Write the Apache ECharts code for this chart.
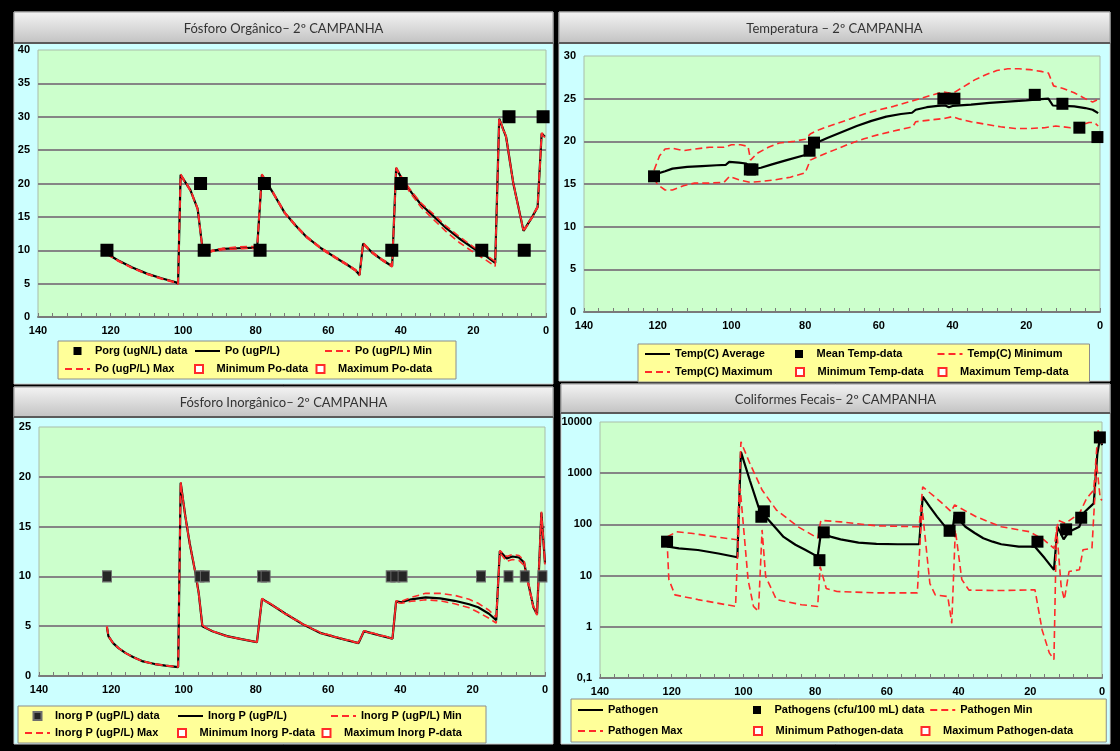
<!DOCTYPE html>
<html>
<head>
<meta charset="utf-8">
<title>2º CAMPANHA</title>
<script src="https://cdn.jsdelivr.net/npm/echarts@6/dist/echarts.min.js"></script>
<style>
  html, body { margin: 0; padding: 0; background: #000; }
  #chart { width: 1120px; height: 751px; }
</style>
</head>
<body>
<div id="chart"></div>
<script>
// ---- Fósforo Orgânico ----
const poDay = [121, 118, 114, 110, 106, 102, 101.4, 100.7, 98, 96, 94.5, 92, 89, 85, 79.6, 78.3, 75, 72, 69, 66, 62, 58, 55, 52.5, 51.4, 50.4, 48, 45, 42.4, 41.3, 39.5, 37, 34.5, 31, 27.5, 24, 20, 17, 14, 12.9, 11, 9, 6.2, 4, 2.3, 1.2, 0.3]
const poAvg = [9.5, 8.5, 7.4, 6.5, 5.8, 5.2, 5.0, 21.3, 19.0, 16.2, 9.5, 9.9, 10.2, 10.3, 10.4, 21.3, 18.4, 15.6, 13.7, 12.0, 10.3, 8.9, 7.9, 7.0, 6.3, 11.0, 9.7, 8.5, 7.6, 22.3, 20.5, 18.6, 16.9, 15.1, 13.3, 11.8, 10.3, 9.3, 8.1, 29.7, 27.0, 20.0, 12.9, 14.8, 16.5, 27.5, 27.0]
const poMin = [9.4, 8.4, 7.3, 6.4, 5.7, 5.1, 4.9, 21.2, 18.9, 16.1, 9.4, 9.8, 10.1, 10.2, 10.3, 21.2, 18.3, 15.5, 13.6, 11.9, 10.2, 8.8, 7.8, 6.9, 6.2, 10.9, 9.6, 8.4, 7.5, 22.2, 20.3, 18.3, 16.5, 14.6, 12.8, 11.2, 9.7, 8.7, 7.6, 29.6, 26.9, 19.9, 12.8, 14.7, 16.4, 27.4, 26.9]
const poMax = [9.5, 8.5, 7.4, 6.5, 5.8, 5.2, 5.0, 21.4, 19.1, 16.3, 9.6, 10.0, 10.3, 10.5, 10.6, 21.4, 18.5, 15.7, 13.8, 12.1, 10.4, 9.0, 8.0, 7.1, 6.4, 11.1, 9.8, 8.6, 7.8, 22.4, 20.7, 18.8, 17.1, 15.4, 13.6, 12.1, 10.5, 9.5, 8.3, 29.8, 27.1, 20.1, 13.0, 14.9, 16.6, 27.6, 27.1]
const poDataDay = [121, 95.2, 94.2, 78.8, 77.6, 42.5, 39.9, 17.7, 10.2, 6, 0.8]
const poData = [10, 20, 10, 10, 20, 10, 20, 10, 30, 10, 30]

// ---- Temperatura ----
const tempDay = [121, 118, 116, 112, 108, 104, 101.5, 100.6, 98, 96, 94.6, 92, 89, 85, 80, 78.6, 77.1, 74, 70, 66, 62, 58, 54, 51, 50, 47, 44, 42, 41, 40, 35, 30, 25, 20, 16, 14, 12.8, 10, 7, 4, 2, 0.5]
const tempAvg = [16.1, 16.5, 16.8, 17.0, 17.1, 17.2, 17.25, 17.6, 17.5, 17.4, 16.7, 16.9, 17.3, 17.8, 18.4, 18.8, 19.8, 20.4, 21.1, 21.8, 22.4, 22.9, 23.2, 23.35, 23.7, 24.0, 24.15, 24.2, 24.0, 24.15, 24.3, 24.5, 24.65, 24.8, 24.95, 25.0, 24.2, 24.15, 24.1, 23.9, 23.7, 23.3]
const tempMaxDay = [121, 119.5, 118, 116, 113, 110, 106, 102, 100, 97.5, 95.5, 94.8, 93, 90, 87, 83, 80, 78.5, 76, 72, 68, 64, 60, 56, 52, 48, 45, 42.5, 40, 37, 34, 31, 28, 25, 22, 19, 16, 14, 12.6, 10, 7, 4, 2, 0.5]
const tempMax = [16.6, 18.3, 19.1, 19.2, 18.9, 19.1, 19.3, 19.3, 19.6, 19.6, 19.4, 17.8, 18.6, 19.3, 19.8, 20.0, 20.25, 20.9, 21.4, 22.0, 22.6, 23.2, 23.7, 24.1, 24.6, 25.1, 25.5, 25.8, 25.6, 26.4, 27.2, 27.8, 28.3, 28.5, 28.5, 28.4, 28.2, 28.0, 26.5, 26.2, 25.7, 25.0, 24.6, 24.9]
const tempMinDay = [121, 120, 118, 116, 113, 110, 106, 102, 100.5, 98, 95, 92, 88, 84, 80, 78.6, 76, 72, 68, 64, 60, 56, 52, 50.8, 50, 46, 42, 40, 38, 35, 31, 27, 23, 19, 15, 12, 8, 5, 3, 1.5, 0.5]
const tempMin = [15.7, 14.9, 14.3, 14.3, 14.8, 15.1, 15.1, 15.2, 15.9, 15.5, 15.2, 15.3, 15.5, 15.8, 16.3, 17.8, 18.3, 19.0, 19.7, 20.3, 20.8, 21.2, 21.6, 21.7, 22.3, 22.5, 22.7, 22.9, 22.6, 22.3, 22.0, 21.7, 21.5, 21.5, 21.6, 21.8, 21.6, 21.9, 22.2, 22.2, 21.8]
const tempDataDay = [121, 95, 94.3, 78.8, 77.6, 42.5, 39.5, 17.7, 10.2, 5.6, 0.7]
const tempData = [15.9, 16.7, 16.7, 18.9, 19.85, 25, 25, 25.45, 24.4, 21.6, 20.5]

// ---- Fósforo Inorgânico ----
const ipDay = [121.2, 120.8, 119.5, 118, 116, 114, 111.5, 108, 105, 101.5, 100.8, 99.5, 98.3, 96.7, 95.8, 94.8, 92, 88, 84, 79.7, 78.3, 75, 71.8, 67, 62, 57, 51.6, 50.1, 46, 42.2, 41.2, 39.7, 37, 33, 29, 25, 21, 18.5, 15.5, 13.5, 12.5, 10.6, 9, 7.2, 5.8, 4.8, 3.2, 2.2, 1, 0]
const ipAvg = [4.9, 4.0, 3.3, 2.8, 2.3, 1.9, 1.5, 1.2, 1.05, 0.9, 19.4, 16.0, 13.3, 10.3, 8.3, 5.0, 4.5, 4.0, 3.7, 3.4, 7.75, 7.0, 6.25, 5.2, 4.3, 3.8, 3.3, 4.5, 4.1, 3.75, 7.5, 7.4, 7.7, 7.9, 7.8, 7.55, 7.2, 6.9, 6.25, 5.6, 12.55, 11.8, 12.0, 11.9, 11.4, 9.6, 6.9, 6.2, 16.4, 11.3]
const ipMin = [4.9, 4.0, 3.3, 2.8, 2.3, 1.9, 1.5, 1.2, 1.05, 0.9, 19.3, 15.9, 13.2, 10.2, 8.2, 5.0, 4.5, 4.0, 3.7, 3.4, 7.7, 7.0, 6.2, 5.2, 4.3, 3.8, 3.3, 4.5, 4.1, 3.75, 7.4, 7.3, 7.5, 7.65, 7.55, 7.25, 6.85, 6.4, 5.8, 5.3, 12.4, 11.5, 11.7, 11.6, 11.1, 9.4, 6.8, 6.1, 16.3, 11.2]
const ipMax = [5.0, 4.0, 3.3, 2.8, 2.3, 1.9, 1.5, 1.2, 1.05, 0.9, 19.5, 16.1, 13.4, 10.4, 8.4, 5.1, 4.5, 4.0, 3.7, 3.4, 7.8, 7.05, 6.3, 5.25, 4.35, 3.85, 3.35, 4.55, 4.15, 3.8, 7.55, 7.5, 7.9, 8.3, 8.3, 8.1, 7.7, 7.3, 6.6, 5.9, 12.6, 12.0, 12.2, 12.1, 11.6, 9.8, 7.0, 6.3, 16.5, 11.4]
const ipDataDay = [121.2, 95.6, 94.1, 78.3, 77.3, 42.7, 41.4, 39.4, 17.7, 10.1, 5.6, 0.7]
const ipData = [10, 10, 10, 10, 10, 10, 10, 10, 10, 10, 10, 10]

// ---- Coliformes Fecais ----
const pathDay = [121.3, 118, 112.7, 107, 101.7, 100.7, 98.2, 95.8, 93.8, 91, 88.8, 85.5, 82.8, 79.3, 78.4, 75.5, 72.9, 67.9, 62.9, 57, 51, 50, 48, 46, 43, 41.9, 41.1, 38.1, 35.5, 33.1, 30.5, 28.1, 23.2, 18.7, 16, 13.4, 12.4, 10.7, 9.2, 6.3, 4.8, 2.3, 1.3, 0.5, 0]
const pathAvg = [37, 34, 31.6, 27, 22.8, 2600, 720, 220, 141, 85, 57, 40, 32, 23.5, 67, 57, 51, 44, 41.7, 41, 41, 350, 220, 142, 78, 62, 152, 90, 68, 53.7, 46, 41, 36.7, 36.7, 22, 12.9, 90, 51, 72, 90, 177, 257, 2400, 5100, 3500]
const pathMaxDay = [121.3, 118.6, 114.6, 107.7, 101.7, 100.7, 98.2, 94.8, 90.8, 84.8, 79.3, 78.4, 72.9, 62.9, 51, 50, 45, 42.1, 41.1, 35.1, 28.1, 20.2, 16.2, 13.4, 12.2, 10.2, 6.3, 4.3, 2.3, 1.1, 0]
const pathMax = [57, 72, 67, 57, 50, 4100, 1550, 470, 191, 90, 54, 120, 112, 94, 90, 540, 276, 178, 240, 141, 90, 72, 50, 34, 120, 105, 163, 321, 470, 6900, 3800]
const pathMinDay = [121.3, 120.8, 119.1, 112.7, 102.2, 100.9, 98.7, 97.2, 95.8, 94.8, 93.8, 90.8, 83.8, 79.3, 78.6, 76.9, 73.9, 62.9, 51.5, 50.2, 48, 46.5, 43, 41.9, 40.9, 39.1, 37.1, 28.1, 18.7, 16.7, 14.7, 13.4, 12.7, 11.4, 10.5, 9.2, 6.3, 5.3, 2.8, 1.5, 0.5, 0]
const pathMin = [49, 8.4, 4.2, 3.4, 2.5, 500, 8.3, 2.5, 2.0, 78, 9.6, 3.4, 2.7, 2.5, 15, 5.6, 4.9, 4.6, 4.6, 219, 7, 4.2, 3.9, 1.17, 78, 8.4, 5.2, 5.1, 5.3, 0.87, 0.31, 0.23, 90, 6.2, 3.4, 12, 13, 32, 34, 1550, 320, 295]
const pathDataDay = [121.3, 95, 94.3, 78.8, 77.6, 42.5, 39.8, 18, 10, 5.8, 0.6]
const pathData = [46, 141, 180, 20, 70, 75, 135, 46, 80, 135, 5000]

const titles = ['Fósforo Orgânico– 2º CAMPANHA', 'Temperatura – 2º CAMPANHA', 'Fósforo Inorgânico– 2º CAMPANHA', 'Coliformes Fecais– 2º CAMPANHA']

const RED = '#ff2a2a'
const SQUARE = 'path://M0,0H10V10H0Z'
const labelFont = { color: '#000', fontWeight: 'bold', fontSize: 11, fontFamily: 'Liberation Sans, Arial, sans-serif' }

const pairs = (xs, ys) => xs.map((x, i) => [x, ys[i]])

// panel boxes: x, y, w, h, title bar height
const panels = [
  [14, 12, 539, 372, 31],
  [559, 12, 551, 369, 31],
  [14, 387, 539, 357, 30],
  [561, 384, 549, 360, 29]
]

const graphics = []
panels.forEach((p, i) => {
  const [x, y, w, h, th] = p
  graphics.push({ type: 'rect', z: -10, shape: { x: x, y: y, width: w, height: h }, style: { fill: '#ccffff', stroke: '#cfcfcf', lineWidth: 1 } })
  graphics.push({
    type: 'rect', z: -9, shape: { x: x, y: y, width: w, height: th },
    style: { fill: new echarts.graphic.LinearGradient(0, 0, 0, 1, [{ offset: 0, color: '#f4f4f4' }, { offset: 1, color: '#c2c2c2' }]), stroke: '#9a9a9a', lineWidth: 1 }
  })
  graphics.push({ type: 'line', z: -8, shape: { x1: x, y1: y + th, x2: x + w, y2: y + th }, style: { stroke: '#5a5a5a', lineWidth: 2 } })
  graphics.push({
    type: 'text', z: -7, x: x + w / 2, y: y + th / 2 + 1,
    style: { text: titles[i], fill: '#333', font: '13px Lato, "Open Sans", sans-serif', textAlign: 'center', textVerticalAlign: 'middle' }
  })
})

const grids = [
  { left: 38, top: 50, width: 508, height: 267 },
  { left: 584, top: 56, width: 516, height: 256 },
  { left: 39, top: 427, width: 506, height: 249 },
  { left: 600, top: 422, width: 502, height: 256 }
].map(g => Object.assign(g, { show: true, backgroundColor: '#ccffcc', borderColor: '#a9bda9', borderWidth: 1 }))

const xAxes = [0, 1, 2, 3].map(i => ({
  gridIndex: i,
  type: 'value',
  min: 0,
  max: 140,
  interval: 20,
  inverse: true,
  axisLine: { lineStyle: { color: '#7a7a7a', width: 2 } },
  axisTick: { inside: true, length: 4, lineStyle: { color: '#7a7a7a' } },
  minorTick: { show: true, splitNumber: 5, length: 4, lineStyle: { color: '#7a7a7a' } },
  splitLine: { show: false },
  axisLabel: Object.assign({ margin: 8 }, labelFont)
}))

const yBase = {
  axisLine: { show: false },
  axisTick: { show: false },
  splitLine: { show: true, showMinLine: false, showMaxLine: false, lineStyle: { color: '#858585', width: 2 } },
  axisLabel: Object.assign({ margin: 8 }, labelFont)
}
const yAxes = [
  Object.assign({ gridIndex: 0, type: 'value', min: 0, max: 40, interval: 5 }, yBase),
  Object.assign({ gridIndex: 1, type: 'value', min: 0, max: 30, interval: 5 }, yBase),
  Object.assign({ gridIndex: 2, type: 'value', min: 0, max: 25, interval: 5 }, yBase),
  Object.assign({ gridIndex: 3, type: 'log', logBase: 10, min: 0.1, max: 10000, interval: 1 }, yBase, {
    axisLabel: Object.assign({ margin: 8, formatter: v => (v < 1 ? String(v).replace('.', ',') : String(v)) }, labelFont)
  })
]

function line (name, i, data, dashed) {
  return {
    name: name,
    type: 'line',
    xAxisIndex: i,
    yAxisIndex: i,
    data: data,
    symbol: 'none',
    z: dashed ? 3 : 2,
    lineStyle: dashed ? { color: RED, width: 1.6, type: [7, 4] } : { color: '#000', width: 2.2 },
    itemStyle: { color: dashed ? RED : '#000' }
  }
}
function dots (name, i, data, size, style) {
  return { name: name, type: 'scatter', xAxisIndex: i, yAxisIndex: i, data: data, symbol: 'rect', symbolSize: size, z: 5, itemStyle: Object.assign({ opacity: 1 }, style) }
}
const black = { color: '#000' }
const hollow = { color: '#fff', borderColor: RED, borderWidth: 1.2 }

const series = [
  line('Po (ugP/L)', 0, pairs(poDay, poAvg), false),
  line('Po (ugP/L) Min', 0, pairs(poDay, poMin), true),
  line('Po (ugP/L) Max', 0, pairs(poDay, poMax), true),
  dots('Porg (ugN/L) data', 0, pairs(poDataDay, poData), 13, black),
  dots('Minimum Po-data', 0, [], 8, hollow),
  dots('Maximum Po-data', 0, [], 8, hollow),

  line('Temp(C) Average', 1, pairs(tempDay, tempAvg), false),
  line('Temp(C) Minimum', 1, pairs(tempMinDay, tempMin), true),
  line('Temp(C) Maximum', 1, pairs(tempMaxDay, tempMax), true),
  dots('Mean Temp-data', 1, pairs(tempDataDay, tempData), 12, black),
  dots('Minimum Temp-data', 1, [], 8, hollow),
  dots('Maximum Temp-data', 1, [], 8, hollow),

  line('Inorg P (ugP/L)', 2, pairs(ipDay, ipAvg), false),
  line('Inorg P (ugP/L) Min', 2, pairs(ipDay, ipMin), true),
  line('Inorg P (ugP/L) Max', 2, pairs(ipDay, ipMax), true),
  dots('Inorg P (ugP/L) data', 2, pairs(ipDataDay, ipData), [9, 11], { color: '#262626', borderColor: '#6e6e6e', borderWidth: 1 }),
  dots('Minimum Inorg P-data', 2, [], 8, hollow),
  dots('Maximum Inorg P-data', 2, [], 8, hollow),

  line('Pathogen', 3, pairs(pathDay, pathAvg), false),
  line('Pathogen Min', 3, pairs(pathMinDay, pathMin), true),
  line('Pathogen Max', 3, pairs(pathMaxDay, pathMax), true),
  dots('Pathogens (cfu/100 mL) data', 3, pairs(pathDataDay, pathData), 12, black),
  dots('Minimum Pathogen-data', 3, [], 8, hollow),
  dots('Maximum Pathogen-data', 3, [], 8, hollow)
]

function legend (names, squares, left, top, textWidth, gap, lineHeight) {
  return {
    left: left,
    top: top,
    width: 3 * (30 + textWidth) + 2 * gap + 12 + 10,
    orient: 'horizontal',
    selectedMode: false,
    padding: [3, 6],
    itemGap: gap,
    itemWidth: 25,
    itemHeight: 8,
    backgroundColor: '#ffff99',
    borderColor: '#8c8c8c',
    borderWidth: 1,
    textStyle: Object.assign({}, labelFont, { width: textWidth, lineHeight: lineHeight }),
    // squares for the marker series, bare lines (no symbol) for the curves
    data: names.map(n => (squares.indexOf(n) >= 0 ? { name: n, icon: SQUARE } : { name: n, itemStyle: { opacity: 0 } }))
  }
}

const legends = [
  legend(['Porg (ugN/L) data', 'Po (ugP/L)', 'Po (ugP/L) Min', 'Po (ugP/L) Max', 'Minimum Po-data', 'Maximum Po-data'],
    ['Porg (ugN/L) data', 'Minimum Po-data', 'Maximum Po-data'], 58, 341, 95, 4, 14),
  legend(['Temp(C) Average', 'Mean Temp-data', 'Temp(C) Minimum', 'Temp(C) Maximum', 'Minimum Temp-data', 'Maximum Temp-data'],
    ['Mean Temp-data', 'Minimum Temp-data', 'Maximum Temp-data'], 638, 344, 116, 4, 14),
  legend(['Inorg P (ugP/L) data', 'Inorg P (ugP/L)', 'Inorg P (ugP/L) Min', 'Inorg P (ugP/L) Max', 'Minimum Inorg P-data', 'Maximum Inorg P-data'],
    ['Inorg P (ugP/L) data', 'Minimum Inorg P-data', 'Maximum Inorg P-data'], 18, 706, 119, 3, 14),
  legend(['Pathogen', 'Pathogens (cfu/100 mL) data', 'Pathogen Min', 'Pathogen Max', 'Minimum Pathogen-data', 'Maximum Pathogen-data'],
    ['Pathogens (cfu/100 mL) data', 'Minimum Pathogen-data', 'Maximum Pathogen-data'], 571, 699, 140, 5, 16)
]

const myChart = echarts.init(document.getElementById('chart'))
myChart.setOption({
  backgroundColor: '#000',
  animation: false,
  graphic: { elements: graphics },
  grid: grids,
  xAxis: xAxes,
  yAxis: yAxes,
  legend: legends,
  series: series
})
</script>
</body>
</html>
